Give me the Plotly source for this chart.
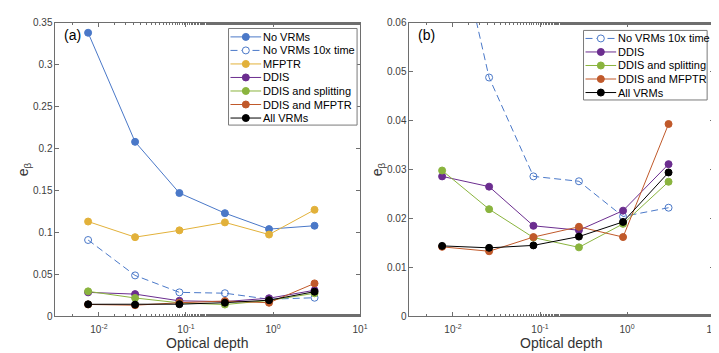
import plotly.graph_objects as go
from plotly.subplots import make_subplots

# ---------------- data ----------------
optical_depth = [0.0075, 0.026, 0.084, 0.28, 0.9, 3.0]
no_vrms = [0.338, 0.208, 0.147, 0.123, 0.104, 0.108]
no_vrms_10x = [0.091, 0.0488, 0.0286, 0.0276, 0.0204, 0.0222]
mfptr = [0.113, 0.0944, 0.1025, 0.112, 0.0975, 0.127]
ddis = [0.0286, 0.0265, 0.0185, 0.0176, 0.0216, 0.0311]
ddis_split = [0.0298, 0.0219, 0.0161, 0.0141, 0.0189, 0.0275]
ddis_mfptr = [0.0142, 0.0133, 0.0162, 0.0183, 0.0162, 0.0393]
all_vrms = [0.0144, 0.0140, 0.0145, 0.0163, 0.0193, 0.0294]

x_tickvals = [0.01, 0.1, 1, 10]
x_ticktext = ["10<sup>-2</sup>", "10<sup>-1</sup>", "10<sup>0</sup>", "10<sup>1</sup>"]

series = {
    "No VRMs": no_vrms,
    "No VRMs 10x time": no_vrms_10x,
    "MFPTR": mfptr,
    "DDIS": ddis,
    "DDIS and splitting": ddis_split,
    "DDIS and MFPTR": ddis_mfptr,
    "All VRMs": all_vrms,
}
panel_a = ["No VRMs", "No VRMs 10x time", "MFPTR", "DDIS", "DDIS and splitting", "DDIS and MFPTR", "All VRMs"]
panel_b = ["No VRMs 10x time", "DDIS", "DDIS and splitting", "DDIS and MFPTR", "All VRMs"]

# ---------------- styles ----------------
styles = {
    "No VRMs": dict(color="#4a78c8", dash="solid", symbol="circle"),
    "No VRMs 10x time": dict(color="#4a78c8", dash="7px,4px", symbol="circle-open"),
    "MFPTR": dict(color="#e2b13a", dash="solid", symbol="circle"),
    "DDIS": dict(color="#6b2d8f", dash="solid", symbol="circle"),
    "DDIS and splitting": dict(color="#8ab43e", dash="solid", symbol="circle"),
    "DDIS and MFPTR": dict(color="#c0592a", dash="solid", symbol="circle"),
    "All VRMs": dict(color="#000000", dash="solid", symbol="circle"),
}

W, H = 719, 353
# pixel boxes of the two panels
PA = (48, 356)
PB = (406, 714)
PT, PBOT = 9, 313

fig = make_subplots(rows=1, cols=2)

def add_panel(names, col):
    for n in names:
        s = styles[n]
        fig.add_trace(go.Scatter(
            x=optical_depth, y=series[n], mode="lines+markers", name=n,
            showlegend=False,
            line=dict(color=s["color"], width=1, dash=s["dash"]),
            marker=dict(symbol=s["symbol"], size=7, color=s["color"],
                        line=dict(width=1, color=s["color"])),
        ), row=1, col=col)

add_panel(panel_a, 1)
add_panel(panel_b, 2)

axis_color = "#6e6e6e"
tick_font = dict(family="Liberation Sans, Arial, sans-serif", size=10, color="#404040")

xcommon = dict(type="log", range=[-2.5, 1], tickvals=x_tickvals, ticktext=x_ticktext,
               ticks="inside", ticklen=4, tickcolor=axis_color, showline=True,
               linecolor=axis_color, linewidth=1, mirror="ticks", showgrid=False,
               zeroline=False, tickfont=tick_font, ticklabelstandoff=4,
               minor=dict(ticks="inside", ticklen=2, tickcolor=axis_color, showgrid=False))
ycommon = dict(ticks="inside", ticklen=4, tickcolor=axis_color, showline=True,
               linecolor=axis_color, linewidth=1, mirror="ticks", showgrid=False,
               zeroline=False, tickfont=tick_font)

ydom = [(H - PBOT) / H, (H - PT) / H]
fig.update_xaxes(domain=[PA[0] / W, PA[1] / W], **xcommon, row=1, col=1)
fig.update_xaxes(domain=[PB[0] / W, PB[1] / W], **xcommon, row=1, col=2)
fig.update_yaxes(domain=ydom, range=[0, 0.35], dtick=0.05, **ycommon, row=1, col=1)
fig.update_yaxes(domain=ydom, range=[0, 0.06], dtick=0.01, **ycommon, row=1, col=2)

def px(x):
    return x / W

def py(y):
    return 1 - y / H

shapes = []
annotations = []
font_family = "Liberation Sans, Arial, sans-serif"

def add_legend(names, box, line_x0, line_x1, text_x, y_start, step):
    x0, y0, x1, y1 = box
    shapes.append(dict(type="rect", xref="paper", yref="paper",
                       x0=px(x0), x1=px(x1), y0=py(y1), y1=py(y0),
                       line=dict(color="#7a7a7a", width=1), fillcolor="white", layer="above"))
    for i, n in enumerate(names):
        s = styles[n]
        yy = y_start + i * step
        shapes.append(dict(type="line", xref="paper", yref="paper",
                           x0=px(line_x0), x1=px(line_x1), y0=py(yy), y1=py(yy),
                           line=dict(color=s["color"], width=1, dash=s["dash"]), layer="above"))
        mx = (line_x0 + line_x1) / 2
        open_marker = s["symbol"].endswith("open")
        shapes.append(dict(type="circle", xref="paper", yref="paper",
                           xsizemode="pixel", ysizemode="pixel",
                           xanchor=px(mx), yanchor=py(yy),
                           x0=-3.5, x1=3.5, y0=-3.5, y1=3.5,
                           line=dict(color=s["color"], width=1),
                           fillcolor="white" if open_marker else s["color"], layer="above"))
        annotations.append(dict(xref="paper", yref="paper", x=px(text_x), y=py(yy),
                                xanchor="left", yanchor="middle", showarrow=False,
                                text=n, font=dict(family=font_family, size=11, color="#000000")))

add_legend(panel_a, (223, 15, 353, 115), 225, 256, 256, 23.7, 14)
add_legend(panel_b, (582, 17, 707, 89), 584, 615, 615, 25.3, 14)

# panel labels
annotations.append(dict(xref="paper", yref="paper", x=px(55), y=py(22), xanchor="left",
                        yanchor="middle", showarrow=False, text="(a)",
                        font=dict(family=font_family, size=14, color="#000000")))
annotations.append(dict(xref="paper", yref="paper", x=px(413), y=py(22), xanchor="left",
                        yanchor="middle", showarrow=False, text="(b)",
                        font=dict(family=font_family, size=14, color="#000000")))
# axis titles
for cx in [(PA[0] + PA[1]) / 2, (PB[0] + PB[1]) / 2]:
    annotations.append(dict(xref="paper", yref="paper", x=px(cx), y=py(341), xanchor="center",
                            yanchor="middle", showarrow=False, text="Optical depth",
                            font=dict(family=font_family, size=14, color="#333333")))
for lx in [16, 374]:
    annotations.append(dict(xref="paper", yref="paper", x=px(lx), y=py(161), xanchor="center",
                            yanchor="middle", showarrow=False, text="e<sub>β</sub>", textangle=-90,
                            font=dict(family=font_family, size=14, color="#333333")))

fig.update_layout(width=W, height=H, margin=dict(l=0, r=0, t=0, b=0),
                  paper_bgcolor="white", plot_bgcolor="white",
                  shapes=shapes, annotations=annotations, showlegend=False)

fig.write_html("out.html")
